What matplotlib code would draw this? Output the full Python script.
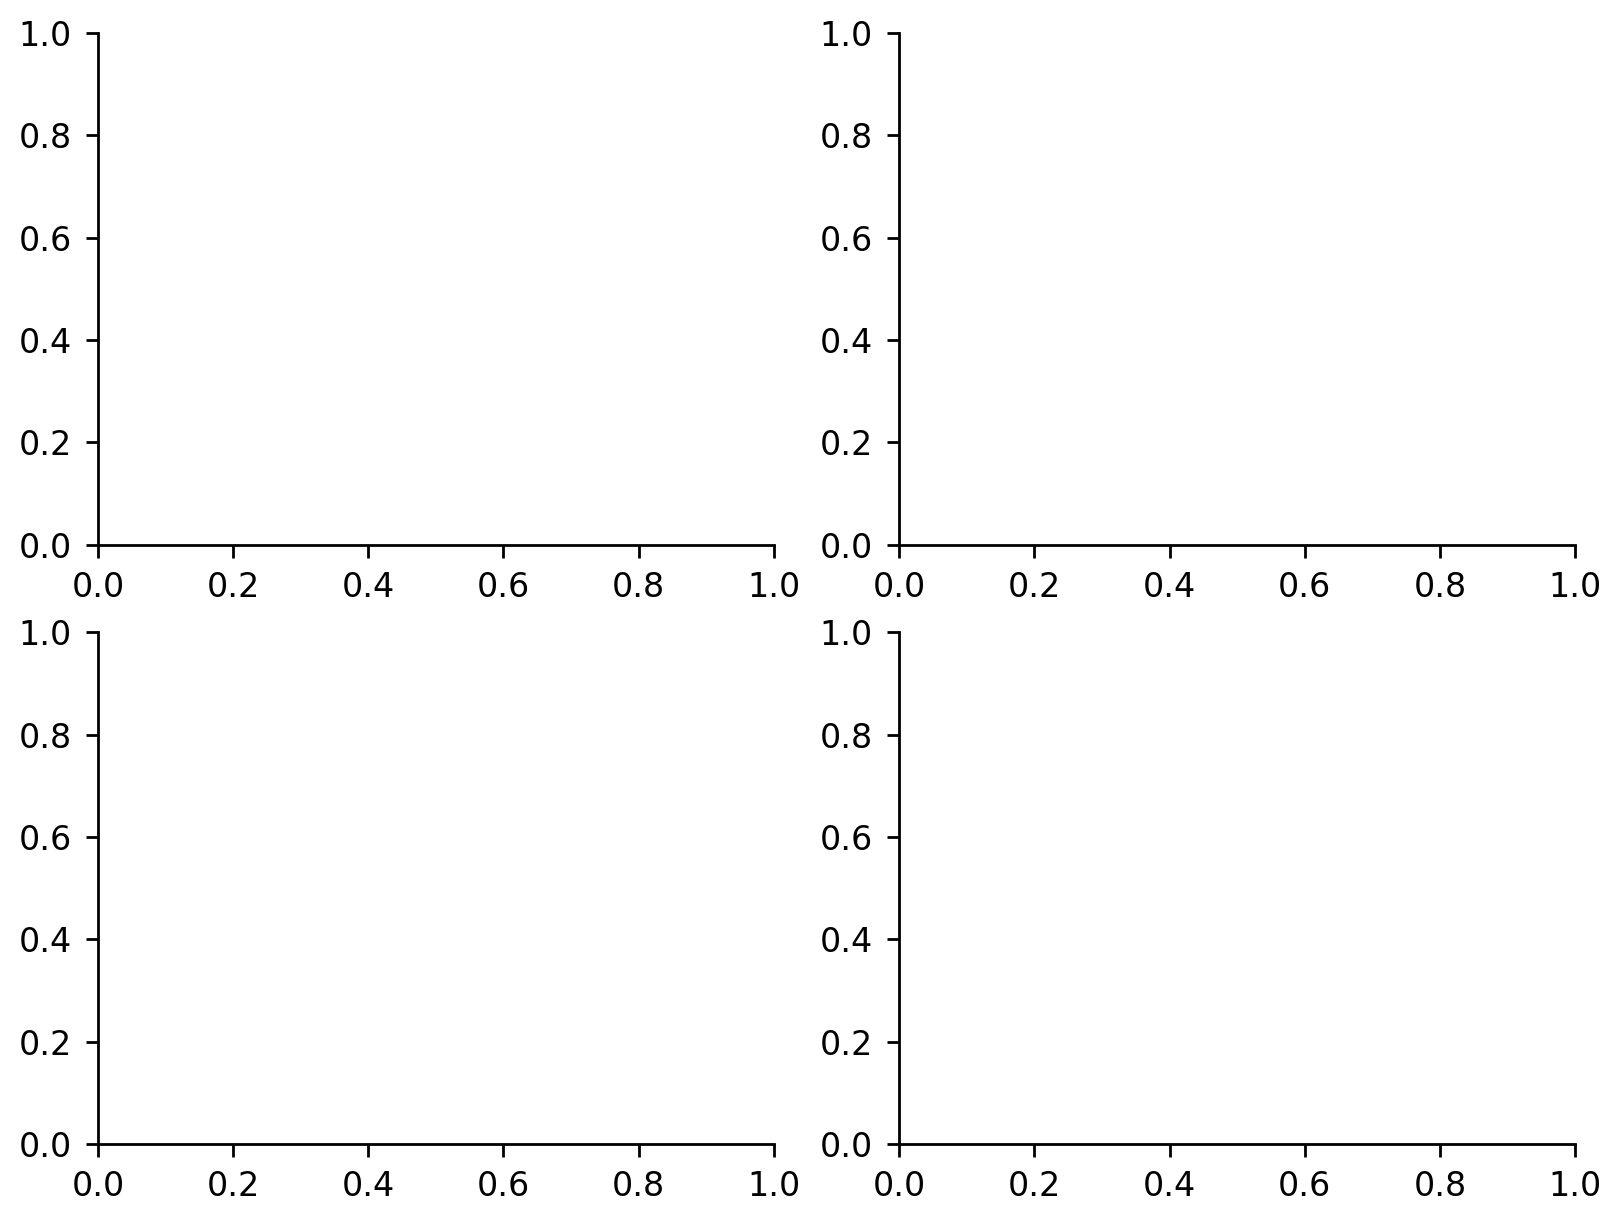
import matplotlib
matplotlib.use("Agg")
import matplotlib.pyplot as plt

# empty 2x2 grid, default 0..1 limits on every panel
xticks = [0.0, 0.2, 0.4, 0.6, 0.8, 1.0]
yticks = [0.0, 0.2, 0.4, 0.6, 0.8, 1.0]
nrows = 2
ncols = 2

plt.rcParams['font.size'] = 12
plt.rcParams['axes.linewidth'] = 1.0
for a in ['xtick', 'ytick']:
  plt.rcParams[a + '.major.size'] = 4.5
  plt.rcParams[a + '.major.width'] = 1.0
  plt.rcParams[a + '.major.pad'] = 5
  plt.rcParams[a + '.labelsize'] = 12

fig, axis = plt.subplots(nrows, ncols, figsize=(1623 / 200, 1223 / 200), dpi=200)
fig.subplots_adjust(left=0.0604, right=0.9704, top=0.973, bottom=0.0646,
                    hspace=0.172, wspace=0.186)

for ax in axis.flat:
  ax.set_xlim(0, 1)
  ax.set_ylim(0, 1)
  ax.set_xticks(xticks)
  ax.set_yticks(yticks)
  ax.spines['top'].set_visible(False)
  ax.spines['right'].set_visible(False)

fig.savefig("out.png", dpi=200)
